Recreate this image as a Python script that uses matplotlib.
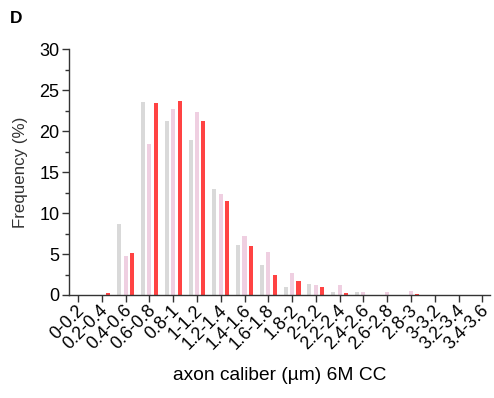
import matplotlib
matplotlib.use("Agg")
import matplotlib.pyplot as plt
import matplotlib.transforms as mtransforms
import numpy as np
from matplotlib.ticker import MultipleLocator

plt.rcParams['font.family'] = ['Liberation Sans', 'DejaVu Sans']

categories = ["0-0.2", "0.2-0.4", "0.4-0.6", "0.6-0.8", "0.8-1", "1-1.2", "1.2-1.4",
              "1.4-1.6", "1.6-1.8", "1.8-2", "2-2.2", "2.2-2.4", "2.4-2.6", "2.6-2.8",
              "2.8-3", "3-3.2", "3.2-3.4", "3.4-3.6"]
gray_vals = [0, 0, 8.72, 23.56, 21.27, 18.95, 12.9, 6.07, 3.67, 0.94, 1.4, 0.33, 0.33, 0, 0, 0, 0, 0]
pink_vals = [0, 0, 4.77, 18.46, 22.7, 22.37, 12.3, 7.2, 5.3, 2.7, 1.2, 1.2, 0.33, 0.33, 0.5, 0, 0, 0]
red_vals = [0, 0.2, 5.17, 23.43, 23.67, 21.27, 11.5, 6.0, 2.5, 1.7, 0.94, 0.2, 0.05, 0, 0.08, 0, 0, 0]

fig = plt.figure(figsize=(4.94, 3.98), dpi=100)
ax = fig.add_axes([0.1397, 0.2588, 0.852, 0.617])

x = np.arange(len(categories))
w = 0.17
off = 0.27
ax.bar(x - off, gray_vals, width=w, color="#d9d9d9", linewidth=0)
ax.bar(x, pink_vals, width=w, color="#efcfe1", linewidth=0)
ax.bar(x + off, red_vals, width=w, color="#ff4343", linewidth=0)

ax.set_xlim(-0.38, 17.32)
ax.set_ylim(0, 30)
ax.yaxis.set_major_locator(MultipleLocator(5))
ax.yaxis.set_minor_locator(MultipleLocator(2.5))
ax.set_xticks(x)
ax.set_xticklabels([])
base = ax.get_xaxis_transform()
shift = mtransforms.ScaledTranslation(3.5 / 100, -13 / 100, fig.dpi_scale_trans)
for xi, lab in zip(x, categories):
    ax.text(xi, 0, lab, transform=base + shift, rotation=45, ha="right", va="center",
            rotation_mode="anchor", fontsize=12.8, clip_on=False)
ax.tick_params(axis="y", labelsize=13, length=5, width=1.0, color="#333333", pad=2)
ax.tick_params(axis="y", which="minor", length=3, width=1.0, color="#333333")
ax.tick_params(axis="x", length=5, width=1.0, color="#333333")

for s in ["top", "right"]:
    ax.spines[s].set_visible(False)
for s in ["left", "bottom"]:
    ax.spines[s].set_linewidth(1.0)
    ax.spines[s].set_color("#333333")

ax.set_ylabel("Frequency (%)", fontsize=12.2, color="#333333", labelpad=8)
ax.text(0.5, 0, "axon caliber (µm) 6M CC", transform=ax.transAxes +
        mtransforms.ScaledTranslation(0, -81 / 100, fig.dpi_scale_trans),
        ha="center", va="center", fontsize=13.8)

fig.text(0.02, 0.972, "D", fontsize=12.5, fontweight="bold", va="top", ha="left")

fig.savefig("out.png", dpi=100)
